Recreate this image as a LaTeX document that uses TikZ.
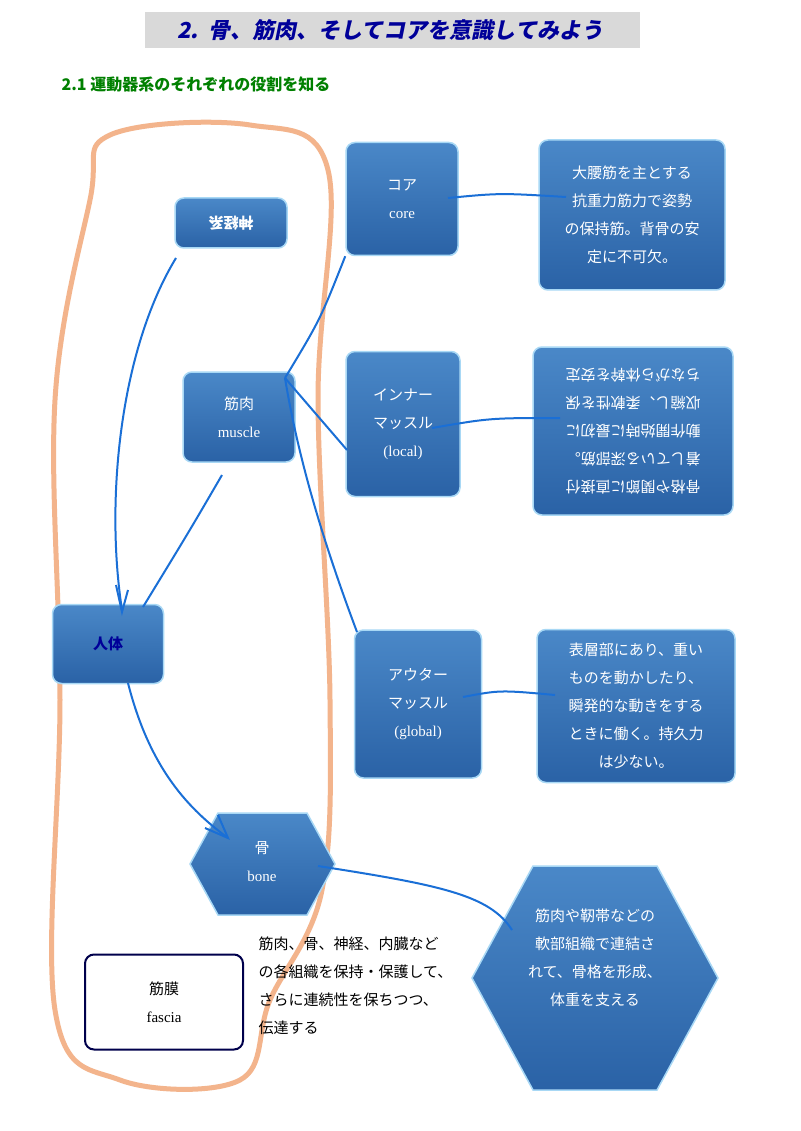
\documentclass[tikz,border=0pt]{standalone}
\usepackage{fontspec}
\setmainfont{Liberation Serif}
\newfontfamily\jp{Noto Sans CJK JP}
\usetikzlibrary{shapes.geometric}
\definecolor{pen}{HTML}{1A6FD6}
\definecolor{ora}{HTML}{F3B48C}
\definecolor{btop}{HTML}{4A88C8}
\definecolor{bbot}{HTML}{2A62A6}
\definecolor{bedge}{HTML}{A8D8F5}
\tikzset{
 bx/.style={rounded corners=9pt,draw=bedge,line width=1.5pt,top color=btop,bottom color=bbot,text=white,align=center,font=\jp\fontsize{15}{28}\selectfont},
 hxp/.style={draw=bedge,line width=1.5pt,top color=btop,bottom color=bbot},
 tx/.style={text=white,align=center,font=\jp\fontsize{15}{28}\selectfont},
 ln/.style={pen,line width=2pt},
}
\begin{document}
\begin{tikzpicture}[x=1pt,y=-1pt]
\useasboundingbox (0,0) rectangle (800,1131);
\fill[white] (0,0) rectangle (800,1131);
% title
\fill[black!15] (145,12) rectangle (640,48);
\node[font=\jp\bfseries\fontsize{22}{24}\selectfont,text=blue!60!black,xslant=0.2] (t) at (392,30) {2.\ \ 骨、筋肉、そしてコアを意識してみよう};
\node[anchor=west,font=\jp\bfseries\fontsize{16}{18}\selectfont,text=green!50!black] (st) at (58,85) {2.1\ 運動器系のそれぞれの役割を知る};
% orange loop
\draw[ora,line width=5pt] plot[smooth cycle,tension=0.6] coordinates{(110,135) (250,125) (328,170) (318,400) (330,700) (322,890) (270,1000) (240,1080) (120,1080) (55,1010) (60,700) (55,400) (90,200)};
% boxes
\node[bx,minimum width=112pt,minimum height=50pt] (ns) at (231,223) {\rotatebox{180}{\bfseries 神経系}};
\node[bx,minimum width=112pt,minimum height=90pt] (mu) at (239,417) {筋肉\\\rmfamily muscle};
\node[bx,minimum width=111pt,minimum height=79pt] (hb) at (108,644) {\bfseries\color{blue!60!black}人体};
\path[hxp] (190,864) -- (218,813) -- (307,813) -- (335,864) -- (307,915) -- (218,915) -- cycle;
\node[tx] (bo) at (262,862) {骨\\\rmfamily bone};
\node[rounded corners=9pt,draw=blue!30!black,line width=2pt,fill=white,minimum width=158pt,minimum height=95pt,align=center,font=\jp\fontsize{15}{28}\selectfont] (fa) at (164,1002) {筋膜\\\rmfamily fascia};
\node[bx,minimum width=112pt,minimum height=113pt] (co) at (402,199) {コア\\\rmfamily core};
\node[bx,minimum width=114pt,minimum height=145pt] (in) at (403,424) {インナー\\マッスル\\\rmfamily (local)};
\node[bx,minimum width=127pt,minimum height=148pt] (ou) at (418,704) {アウター\\マッスル\\\rmfamily (global)};
\node[bx,minimum width=186pt,minimum height=150pt,font=\jp\fontsize{15}{28}\selectfont] (cd) at (632,215) {大腰筋を主とする\\抗重力筋力で姿勢\\の保持筋。背骨の安\\定に不可欠。};
\node[bx,minimum width=200pt,minimum height=168pt,font=\jp\fontsize{15}{28}\selectfont] (id) at (633,431) {\rotatebox{180}{\begin{tabular}{l}骨格や関節に直接付\\着している深部筋。\\動作開始時に最初に\\収縮し、柔軟性を保\\ちながら体幹を安定\end{tabular}}};
\node[bx,minimum width=198pt,minimum height=153pt,font=\jp\fontsize{15}{28}\selectfont] (od) at (636,706) {表層部にあり、重い\\ものを動かしたり、\\瞬発的な動きをする\\ときに働く。持久力\\は少ない。};
\path[hxp] (472,978) -- (533,866) -- (657,866) -- (718,978) -- (657,1090) -- (533,1090) -- cycle;
\node[tx] (bd) at (595,958) {筋肉や靭帯などの\\軟部組織で連結さ\\れて、骨格を形成、\\体重を支える};
\node[anchor=north west,align=left,font=\jp\fontsize{15}{28}\selectfont] (ft) at (255,933) {筋肉、骨、神経、内臓など\\の各組織を保持・保護して、\\さらに連続性を保ちつつ、\\伝達する};
% pen lines
\coordinate (c1) at (448,198); \coordinate (c2) at (566,197);
\draw[ln] (c1) .. controls (500,193) .. (c2);
\coordinate (i1) at (432,428); \coordinate (i2) at (560,418);
\draw[ln] (i1) .. controls (490,418) .. (i2);
\coordinate (o1) at (463,697); \coordinate (o2) at (555,695);
\draw[ln] (o1) .. controls (500,690) .. (o2);
\coordinate (b1) at (318,866); \coordinate (b2) at (512,930);
\draw[ln] (b1) .. controls (440,885) and (490,895) .. (b2);
\coordinate (m1) at (285,378);
\draw[ln] (m1) .. controls (320,320) .. (co.south west);
\draw[ln] (m1) -- (347,450);
\draw[ln] (m1) .. controls (300,470) and (330,560) .. (357,632);
\coordinate (n1) at (176,258); \coordinate (h1) at (122,610);
\draw[ln] (n1) .. controls (120,350) and (105,500) .. (h1);
\draw[ln] (116,585) -- (122,612) -- (128,590);
\coordinate (m2) at (222,475); \coordinate (h2) at (143,607);
\draw[ln] (m2) .. controls (190,530) .. (h2);
\coordinate (h3) at (128,683); \coordinate (b3) at (228,838);
\draw[ln] (h3) .. controls (150,770) and (190,810) .. (b3);
\draw[ln] (205,828) -- (228,838) -- (218,815);
\end{tikzpicture}
\end{document}
